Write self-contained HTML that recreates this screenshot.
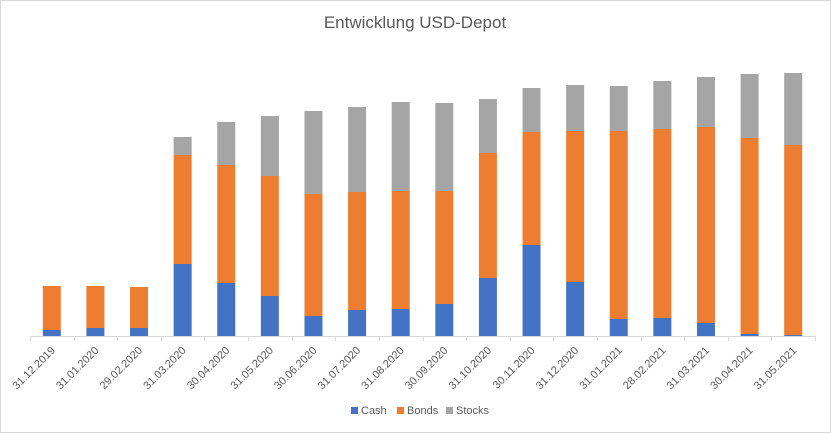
<!DOCTYPE html>
<html><head><meta charset="utf-8"><style>
body{margin:0;background:#fff}
svg{display:block;font-family:"Liberation Sans",sans-serif}
</style></head><body>
<svg id="chart" width="831" height="433" viewBox="0 0 831 433">
<rect x="0.5" y="0.5" width="830" height="432" fill="#fff" stroke="#d9d9d9"/>
<text x="415" y="28" text-anchor="middle" font-size="17" fill="#595959">Entwicklung USD-Depot</text>
<g id="bars"></g>
<line x1="30" y1="336.5" x2="815" y2="336.5" stroke="#d9d9d9"/>
<g id="ticks"></g>
<g id="labels"></g>
<g>
<g><rect x="351" y="407" width="7" height="7" fill="#4472c4"/><text x="361" y="414" font-size="11" fill="#595959">Cash</text></g>
<g><rect x="397" y="407" width="7" height="7" fill="#ed7d31"/><text x="407" y="414" font-size="11" fill="#595959">Bonds</text></g>
<g><rect x="446" y="407" width="7" height="7" fill="#a5a5a5"/><text x="456" y="414" font-size="11" fill="#595959">Stocks</text></g>
</g>
</svg>
<script>
const categories=["31.12.2019","31.01.2020","29.02.2020","31.03.2020","30.04.2020","31.05.2020","30.06.2020","31.07.2020","31.08.2020","30.09.2020","31.10.2020","30.11.2020","31.12.2020","31.01.2021","28.02.2021","31.03.2021","30.04.2021","31.05.2021"];
const cash=[6,8,8,72,53,40,20,26,27,32,58,91,54,17,18,13,2,1];
const bonds=[44,42,41,109,118,120,122,118,118,113,125,113,151,188,189,196,196,190];
const stocks=[0,0,0,18,43,60,83,85,89,88,54,44,46,45,48,50,64,72];
const NS="http://www.w3.org/2000/svg";
const baseY=336, plotH=280, maxV=280, x0=30, x1=815;
const n=categories.length, step=(x1-x0)/n, bw=18;
const yScale=v=>v/maxV*plotH;
const xCenter=i=>x0+step*(i+0.5);
const bars=document.getElementById('bars'), labels=document.getElementById('labels'), ticks=document.getElementById('ticks');
const series=[["cash",cash,"#4472c4"],["bonds",bonds,"#ed7d31"],["stocks",stocks,"#a5a5a5"]];
for(let i=0;i<=n;i++){
  const l=document.createElementNS(NS,'line');
  const x=Math.round(x0+step*i)+0.5;
  l.setAttribute('x1',x);l.setAttribute('x2',x);
  l.setAttribute('y1',336);l.setAttribute('y2',341);
  l.setAttribute('stroke','#d9d9d9');
  
  
  ticks.appendChild(l);
}
categories.forEach((c,i)=>{
  let acc=0;
  series.forEach(([nm,arr,col])=>{
    const h=yScale(arr[i]);
    const r=document.createElementNS(NS,'rect');
    r.setAttribute('x',xCenter(i)-bw/2);
    r.setAttribute('y',baseY-yScale(acc)-h);
    r.setAttribute('width',bw);
    r.setAttribute('height',h);
    r.setAttribute('fill',col);
    
    
    bars.appendChild(r);
    acc+=arr[i];
  });
  const t=document.createElementNS(NS,'text');
  const cx=xCenter(i)+4, cy=351;
  t.setAttribute('x',cx);t.setAttribute('y',cy);
  t.setAttribute('text-anchor','end');
  t.setAttribute('font-size','11');
  t.setAttribute('fill','#595959');
  t.setAttribute('transform','rotate(-45 '+cx+' '+cy+')');
  
  
  t.textContent=c;
  labels.appendChild(t);
});
</script>
</body></html>
